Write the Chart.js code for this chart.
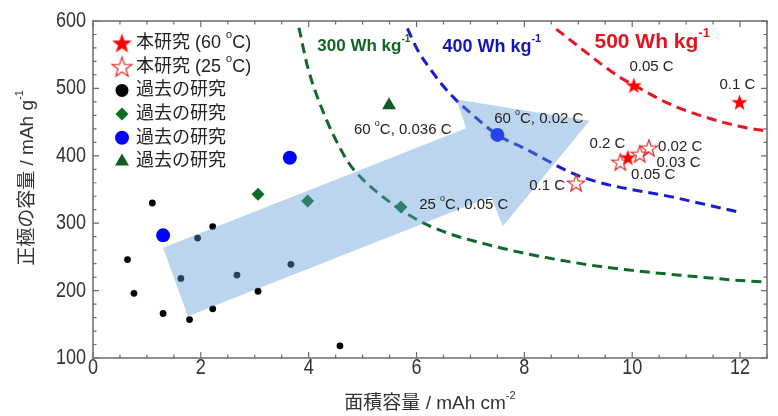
<!DOCTYPE html>
<html>
<head>
<meta charset="utf-8">
<script src="https://cdn.jsdelivr.net/npm/chart.js@4.4.1/dist/chart.umd.min.js"></script>
<style>
  html, body { margin: 0; padding: 0; background: #fff; }
  #wrap { width: 778px; height: 416px; position: relative; }
</style>
</head>
<body>
<div id="wrap"><canvas id="capChart"></canvas></div>
<script>
// ---- values: [areal capacity mAh/cm2, cathode capacity mAh/g] ----
const pastBlack = [[1.10, 330], [0.64, 246], [0.76, 196], [1.30, 166], [1.79, 157], [2.22, 295], [2.22, 173],
                   [3.06, 199], [4.58, 118], [1.94, 278], [1.63, 218], [2.67, 223], [3.67, 239]];
const pastDiamond = [[3.06, 343], [3.98, 333], [5.71, 324]];
const pastBlue = [[1.30, 282], [3.65, 397], [7.50, 431]];
const pastTriangle = [[5.49, 475]];
const work60 = [[10.03, 505], [11.99, 480], [9.92, 398]];
const work25 = [[9.78, 391], [10.14, 403], [10.31, 412], [8.96, 360]];

// constant energy density lines
const curve300 = [[3.82, 590], [3.98, 532], [4.28, 463], [4.66, 400], [4.84, 379], [5.58, 327], [6.27, 295],
                  [7.38, 267], [9.05, 240], [10.0, 230], [11.0, 222], [12.0, 215], [12.45, 213]];
const curve400 = [[5.83, 589], [6.02, 557], [6.27, 527], [6.51, 502], [6.73, 483], [7.01, 463], [7.50, 431],
                  [8.0, 411], [9.05, 369], [10.85, 337], [12.0, 316]];
const curve500 = [[8.59, 588], [9.80, 515], [10.03, 505], [10.66, 478], [11.41, 456], [12.15, 441], [12.49, 437]];

// big translucent arrow (outline in data units)
const arrowOutline = [[1.30, 263.4], [6.92, 440.7], [6.74, 483.7], [9.21, 451.9], [7.60, 295.6],
                      [7.38, 339.4], [1.76, 161.9], [1.30, 263.4]];

const xTicks = [0, 2, 4, 6, 8, 10, 12];
const yTicks = [100, 200, 300, 400, 500, 600];

const legendLabels = ['本研究 (60 |o|C)', '本研究 (25 |o|C)', '過去の研究', '過去の研究', '過去の研究', '過去の研究'];

const LATIN = '"Liberation Sans Narrow", "Arial Narrow", "Liberation Sans", Arial, sans-serif';
const JP = '"Liberation Sans Narrow", "Liberation Sans", "Noto Sans CJK JP", sans-serif';

const toXY = arr => arr.map(p => ({ x: p[0], y: p[1] }));

function starCanvas(outer, fill, stroke, lw) {
  const s = Math.ceil(outer * 2 + 4);
  const c = document.createElement('canvas');
  c.width = s; c.height = s;
  const g = c.getContext('2d');
  g.beginPath();
  for (let i = 0; i < 10; i++) {
    const r = i % 2 ? outer * 0.4 : outer;
    const a = -Math.PI / 2 + i * Math.PI / 5;
    g.lineTo(s / 2 + r * Math.cos(a), s / 2 + 1 + r * Math.sin(a));
  }
  g.closePath();
  if (fill) { g.fillStyle = fill; g.fill(); }
  if (stroke) { g.strokeStyle = stroke; g.lineWidth = lw; g.stroke(); }
  return c;
}
const starFull = starCanvas(8.5, '#ff0000');
const starOpen = starCanvas(9, null, '#e3262b', 1.2);
const starFullL = starCanvas(10.5, '#ff0000');
const starOpenL = starCanvas(10.5, null, '#e3262b', 1.2);

// text with "|sup|" markers
function drawRich(ctx, str, x, y, size, color, weight, align, fam) {
  const parts = str.split('|').map((t, i) => ({ t, sup: i % 2 === 1 }));
  ctx.save();
  ctx.fillStyle = color;
  ctx.textBaseline = 'middle';
  ctx.textAlign = 'left';
  const fontOf = p => `${weight} ${p.sup ? Math.round(size * 0.6) : size}px ${fam || LATIN}`;
  let total = 0;
  parts.forEach(p => { ctx.font = fontOf(p); total += ctx.measureText(p.t).width; });
  let cx = align === 'center' ? x - total / 2 : x;
  parts.forEach(p => {
    ctx.font = fontOf(p);
    ctx.fillText(p.t, cx, p.sup ? y - size * 0.42 : y);
    cx += ctx.measureText(p.t).width;
  });
  ctx.restore();
}

// narrow tick numbers, like the original figure
function drawNarrow(ctx, text, x, y, align) {
  ctx.save();
  ctx.translate(x, y);
  ctx.scale(0.82, 1);
  ctx.font = `22px ${LATIN}`;
  ctx.fillStyle = '#333';
  ctx.textAlign = align;
  ctx.textBaseline = 'middle';
  ctx.fillText(text, 0, 0);
  ctx.restore();
}

// notes placed in data units
const notes = [
  { x: 4.16, y: 562, t: '300 Wh kg|-1|', size: 17, color: '#146428', bold: true },
  { x: 6.48, y: 562, t: '400 Wh kg|-1|', size: 18, color: '#1414b4', bold: true },
  { x: 9.30, y: 569, t: '500 Wh kg|-1|', size: 21, color: '#e3141e', bold: true },
  { x: 4.84, y: 438, t: '60 |o|C, 0.036 C' },
  { x: 7.44, y: 455, t: '60 |o|C, 0.02 C' },
  { x: 6.05, y: 327, t: '25 |o|C, 0.05 C' },
  { x: 8.09, y: 356, t: '0.1 C' },
  { x: 9.95, y: 532, t: '0.05 C' },
  { x: 11.62, y: 505, t: '0.1 C' },
  { x: 9.21, y: 418, t: '0.2 C' },
  { x: 10.48, y: 413, t: '0.02 C' },
  { x: 10.45, y: 389, t: '0.03 C' },
  { x: 9.98, y: 371, t: '0.05 C' }
];

const ARROW_INDEX = 0;

const notesPlugin = {
  id: 'notes',
  beforeDatasetDraw(chart, args) {
    if (args.index !== ARROW_INDEX) return;
    const { ctx, scales: { x, y } } = chart;
    notes.forEach(n => {
      drawRich(ctx, n.t, x.getPixelForValue(n.x), y.getPixelForValue(n.y), n.size || 15,
        n.color || '#222', n.bold ? 'bold' : 'normal', 'left');
    });
  }
};

const frame = {
  id: 'frame',
  afterDatasetsDraw(chart) {
    const { ctx, chartArea: a, scales: { x, y } } = chart;
    ctx.save();
    ctx.strokeStyle = '#6b6b6b';
    ctx.lineWidth = 1.5;
    ctx.strokeRect(a.left, a.top, a.right - a.left, a.bottom - a.top);
    ctx.lineWidth = 1.2;
    ctx.beginPath();
    for (let v = 0; v <= 12.5 + 1e-9; v += 0.5) {
      const px = x.getPixelForValue(v);
      const len = xTicks.includes(v) ? 6 : 3.5;
      ctx.moveTo(px, a.bottom); ctx.lineTo(px, a.bottom - len);
      ctx.moveTo(px, a.top); ctx.lineTo(px, a.top + len);
    }
    for (let v = 100; v <= 600; v += 20) {
      const py = y.getPixelForValue(v);
      const len = yTicks.includes(v) ? 6 : 3.5;
      ctx.moveTo(a.left, py); ctx.lineTo(a.left + len, py);
      ctx.moveTo(a.right, py); ctx.lineTo(a.right - len, py);
    }
    ctx.stroke();
    ctx.restore();

    // tick numbers from the scales' own ticks
    x.ticks.forEach(t => {
      if (xTicks.includes(t.value)) drawNarrow(ctx, String(t.value), x.getPixelForValue(t.value), a.bottom + 10, 'center');
    });
    y.ticks.forEach(t => {
      if (yTicks.includes(t.value)) drawNarrow(ctx, String(t.value), a.left - 7, y.getPixelForValue(t.value), 'right');
    });

    // axis titles
    drawRich(ctx, '面積容量 / mAh cm|-2|', (a.left + a.right) / 2, 404, 19, '#333', 'normal', 'center', JP);
    ctx.save();
    ctx.translate(28, 178);
    ctx.rotate(-Math.PI / 2);
    drawRich(ctx, '正極の容量 / mAh g|-1|', 0, 0, 19, '#333', 'normal', 'center', JP);
    ctx.restore();
  },
  afterDraw(chart) {
    const { ctx, chartArea: a } = chart;
    const h = Chart.helpers;
    const lx = a.left + 29, ly = a.top + 22, step = 23.7;
    legendLabels.forEach((lab, i) => {
      const yy = ly + i * step;
      const ds = chart.data.datasets[i + 1];
      ctx.save();
      if (ds.pointStyle instanceof HTMLCanvasElement) {
        const img = i === 0 ? starFullL : starOpenL;
        ctx.drawImage(img, lx - img.width / 2, yy - img.height / 2);
      } else {
        ctx.fillStyle = ds.backgroundColor;
        ctx.strokeStyle = ds.borderColor;
        h.drawPoint(ctx, { pointStyle: ds.pointStyle, radius: ds.legendRadius, borderWidth: 0, rotation: 0 }, lx, yy);
      }
      ctx.restore();
      drawRich(ctx, lab, lx + 14, yy, 18, '#222', 'normal', 'left', JP);
    });
  }
};

new Chart(document.getElementById('capChart'), {
  type: 'scatter',
  data: {
    datasets: [
      { type: 'line', data: toXY(arrowOutline), showLine: true, fill: 'shape', tension: 0,
        backgroundColor: 'rgba(95,155,214,0.42)', borderWidth: 0, pointRadius: 0, order: 0 },
      { data: toXY(work60), pointStyle: starFull, backgroundColor: '#ff0000', order: 1 },
      { data: toXY(work25), pointStyle: starOpen, backgroundColor: '#e3262b', order: 1 },
      { data: toXY(pastBlack), pointStyle: 'circle', radius: 3.4, legendRadius: 6.5,
        backgroundColor: '#000', borderColor: '#000', borderWidth: 0, order: 2 },
      { data: toXY(pastDiamond), pointStyle: 'rectRot', radius: 6.5, legendRadius: 6.5,
        backgroundColor: '#0b6b23', borderColor: '#0b6b23', borderWidth: 0, order: 2 },
      { data: toXY(pastBlue), pointStyle: 'circle', radius: 7, legendRadius: 7,
        backgroundColor: '#0000ff', borderColor: '#0000ff', borderWidth: 0, order: 2 },
      { data: toXY(pastTriangle), pointStyle: 'triangle', radius: 8, legendRadius: 8,
        backgroundColor: '#145a28', borderColor: '#145a28', borderWidth: 0, order: 2 },
      { type: 'line', data: toXY(curve300), borderColor: '#0d6a2a', borderWidth: 3, borderDash: [10, 6],
        pointRadius: 0, fill: false, cubicInterpolationMode: 'monotone', order: 5 },
      { type: 'line', data: toXY(curve400), borderColor: '#1a1ad0', borderWidth: 3, borderDash: [10, 6],
        pointRadius: 0, fill: false, cubicInterpolationMode: 'monotone', order: 5 },
      { type: 'line', data: toXY(curve500), borderColor: '#e8141e', borderWidth: 3, borderDash: [10, 6],
        pointRadius: 0, fill: false, cubicInterpolationMode: 'monotone', order: 5 }
    ]
  },
  options: {
    responsive: true,
    maintainAspectRatio: false,
    animation: false,
    layout: { padding: { top: 21, right: 11, left: 0, bottom: 0 } },
    elements: { point: { hoverRadius: 0 } },
    plugins: { legend: { display: false }, tooltip: { enabled: false } },
    scales: {
      x: {
        type: 'linear', min: 0, max: 12.5,
        grid: { display: false, drawTicks: false }, border: { display: false },
        ticks: { stepSize: 2, includeBounds: false, display: false },
        afterFit(s) { s.height = 58; }
      },
      y: {
        type: 'linear', min: 100, max: 600,
        grid: { display: false, drawTicks: false }, border: { display: false },
        ticks: { stepSize: 100, display: false },
        afterFit(s) { s.width = 93; }
      }
    }
  },
  plugins: [notesPlugin, frame]
});
</script>
</body>
</html>
